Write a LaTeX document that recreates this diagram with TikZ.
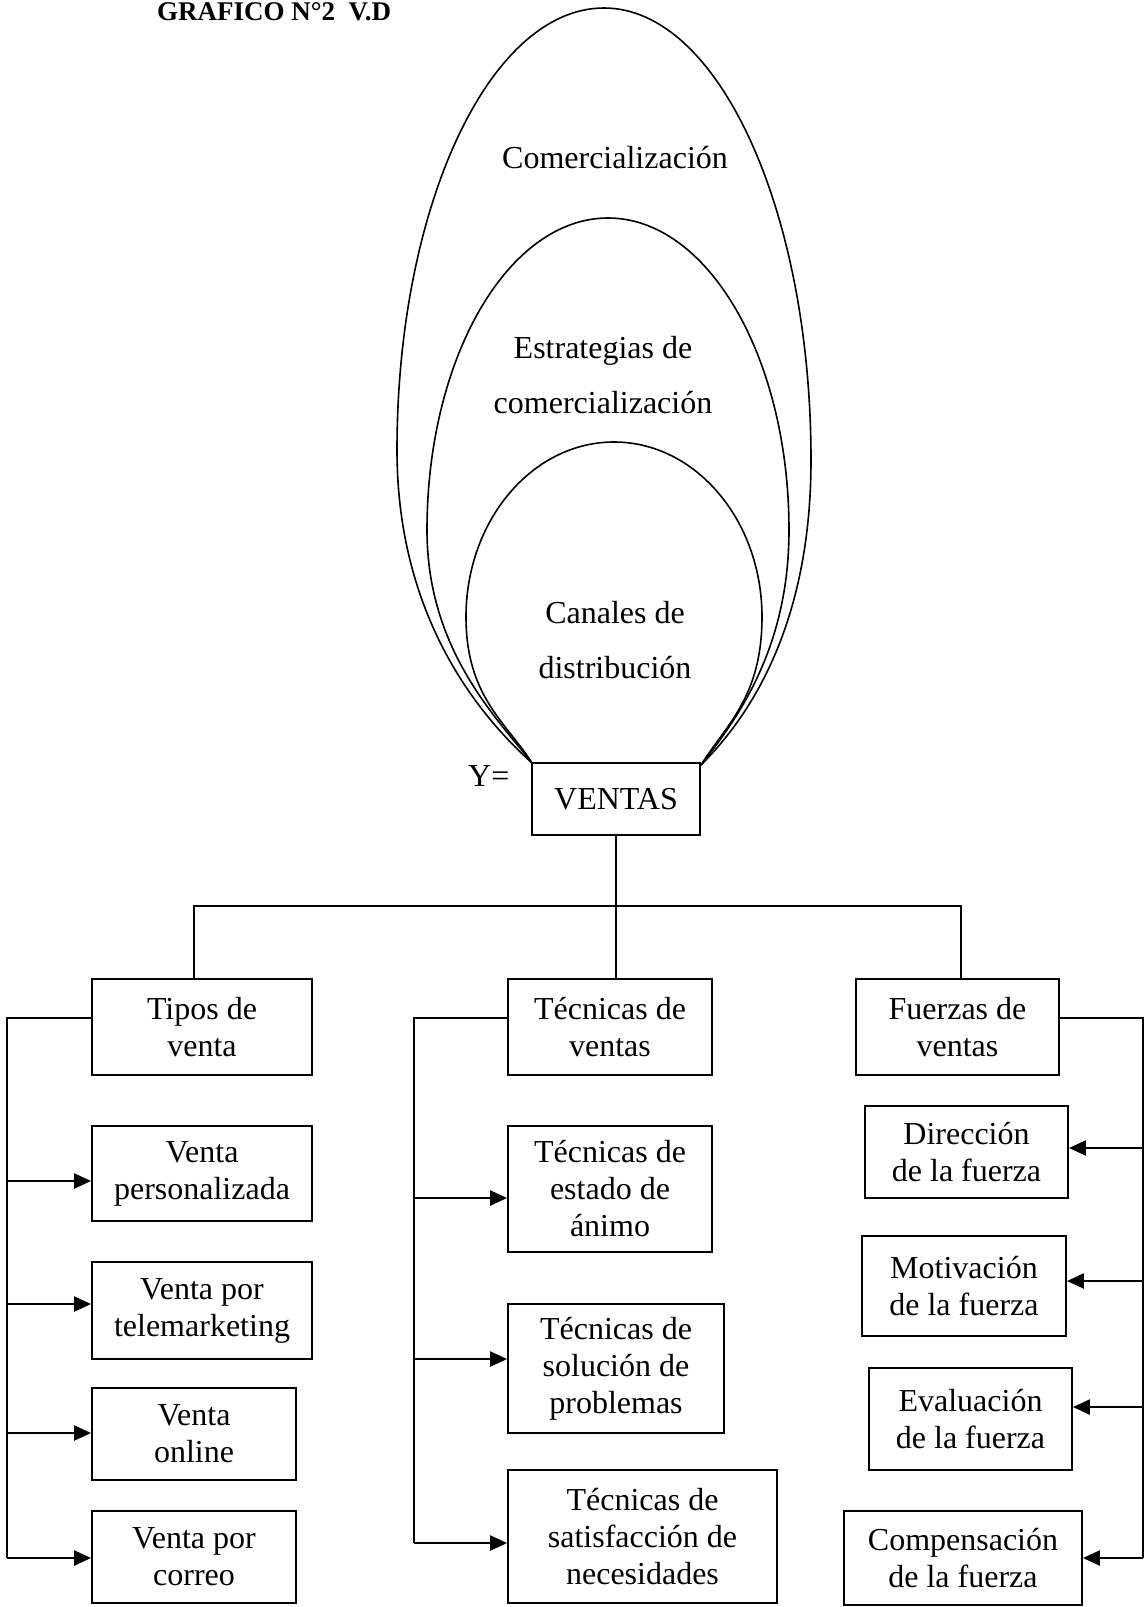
\documentclass[tikz,border=0pt]{standalone}
\usepackage{fontspec}
\setmainfont{Liberation Serif}
\usetikzlibrary{arrows.meta}
\begin{document}
\begin{tikzpicture}[x=1pt,y=-1pt,
  box/.style={draw, line width=1.8pt, inner sep=0pt, align=center, fill=white,
              font=\fontsize{32}{37}\selectfont},
  ln/.style={line width=1.8pt},
  arr/.style={line width=2.2pt, -{Triangle[length=17pt,width=15pt]}},
  curve/.style={line width=1.6pt},
  lbl/.style={align=center, inner sep=0pt, font=\fontsize{32}{55}\selectfont}]
\useasboundingbox (0,0) rectangle (1145,1607);

% nested ovals
\draw[curve] (532,763) .. controls (482,718) and (397,620) .. (397,450)
  .. controls (397,206) and (489.7,8) .. (604,8)
  .. controls (718.3,8) and (811,210.5) .. (811,460)
  .. controls (811,630) and (746,720) .. (701,765);
\draw[curve] (532,763) .. controls (497,718) and (427,650) .. (427,530)
  .. controls (427,357.8) and (508.1,218) .. (608,218)
  .. controls (707.9,218) and (789,357.8) .. (789,530)
  .. controls (789,650) and (736,720) .. (701,765);
\draw[curve] (532,763) .. controls (507,723) and (466,697) .. (466,617)
  .. controls (466,520.4) and (532.3,442) .. (614,442)
  .. controls (695.7,442) and (762,520.4) .. (762,617)
  .. controls (762,697) and (726,725) .. (701,765);

\node[lbl, anchor=base] (com) at (615,168) {Comercialización};
\node[lbl, anchor=north] (est) at (603,336) {Estrategias de\\comercialización};
\node[lbl, anchor=north] (can) at (615,601) {Canales de\\distribución};

% title
\node[anchor=base west, inner sep=0pt, font=\fontsize{27}{32}\selectfont\bfseries] (title) at (157,20) {GRAFICO N°2\ \ V.D};

% central box
\node[box, minimum width=168pt, minimum height=72pt] (ventas) at (616,799) {VENTAS};
\node[anchor=base west, inner sep=0pt, font=\fontsize{32}{36}\selectfont] (yeq) at (468,786) {Y=};

% level 1
\node[box, minimum width=220pt, minimum height=96pt] (tipos) at (202,1027) {Tipos de\\venta};
\node[box, minimum width=204pt, minimum height=96pt] (tecv) at (610,1027) {Técnicas de\\ventas};
\node[box, minimum width=203pt, minimum height=96pt] (fz) at (957.5,1027) {Fuerzas de\\ventas};

% left column
\node[box, minimum width=220pt, minimum height=95pt] (vp) at (202,1173.5) {Venta\\personalizada};
\node[box, minimum width=220pt, minimum height=97pt] (vt) at (202,1310.5) {Venta por\\telemarketing};
\node[box, minimum width=204pt, minimum height=92pt] (vo) at (194,1434) {Venta\\online};
\node[box, minimum width=204pt, minimum height=92pt] (vc) at (194,1557) {Venta por\\correo};

% middle column
\node[box, minimum width=204pt, minimum height=126pt] (te) at (610,1189) {Técnicas de\\estado de\\ánimo};
\node[box, minimum width=216pt, minimum height=129pt] (ts) at (616,1368.5) {Técnicas de\\solución de\\problemas};
\node[box, minimum width=269pt, minimum height=133pt] (tn) at (642.5,1536.5) {Técnicas de\\satisfacción de\\necesidades};

% right column
\node[box, minimum width=203pt, minimum height=92pt] (fd) at (966.5,1152) {Dirección\\de la fuerza};
\node[box, minimum width=204pt, minimum height=100pt] (fm) at (964,1286) {Motivación\\de la fuerza};
\node[box, minimum width=203pt, minimum height=102pt] (fe) at (970.5,1419) {Evaluación\\de la fuerza};
\node[box, minimum width=238pt, minimum height=94pt] (fc) at (963,1558) {Compensación\\de la fuerza};

% tree connectors
\coordinate (bl) at (194,906);
\coordinate (br) at (961,906);
\draw[ln] (ventas.south) -- (ventas.south |- tecv.north);
\draw[ln] (bl |- tipos.north) -- (bl) -- (br) -- (br |- fz.north);

% left trunk
\coordinate (lt) at (7,1018);
\coordinate (lb) at (7,1558);
\draw[ln] (tipos.west |- lt) -- (lt) -- (lb);
\coordinate (l1) at (7,1181);
\coordinate (l2) at (7,1304);
\coordinate (l3) at (7,1433);
\draw[arr] (l1) -- (l1 -| vp.west);
\draw[arr] (l2) -- (l2 -| vt.west);
\draw[arr] (l3) -- (l3 -| vo.west);
\draw[arr] (lb) -- (lb -| vc.west);

% middle trunk
\coordinate (mt) at (414,1018);
\coordinate (mb) at (414,1543);
\draw[ln] (tecv.west |- mt) -- (mt) -- (mb);
\coordinate (m1) at (414,1198);
\coordinate (m2) at (414,1359);
\draw[arr] (m1) -- (m1 -| te.west);
\draw[arr] (m2) -- (m2 -| ts.west);
\draw[arr] (mb) -- (mb -| tn.west);

% right trunk
\coordinate (rt) at (1143,1018);
\coordinate (rb) at (1143,1558);
\draw[ln] (fz.east |- rt) -- (rt) -- (rb);
\coordinate (r1) at (1143,1148);
\coordinate (r2) at (1143,1281);
\coordinate (r3) at (1143,1407);
\draw[arr] (r1) -- (r1 -| fd.east);
\draw[arr] (r2) -- (r2 -| fm.east);
\draw[arr] (r3) -- (r3 -| fe.east);
\draw[arr] (rb) -- (rb -| fc.east);
\end{tikzpicture}
\end{document}
